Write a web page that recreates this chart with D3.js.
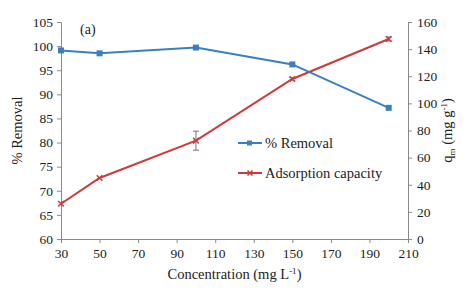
<!DOCTYPE html>
<html><head><meta charset="utf-8">
<script src="https://cdn.jsdelivr.net/npm/d3@7/dist/d3.min.js"></script>
</head><body style="margin:0">
<script>
const concentration = [30, 50, 100, 150, 200];
const removal = [99.1, 98.5, 99.7, 96.2, 87.2];
const capacity = [26, 45, 72.5, 118, 147.5];
const capacityErr = [0, 0, 7, 1, 1.5];
const xTicks = [30, 50, 70, 90, 110, 130, 150, 170, 190, 210];
const yLeftTicks = [60, 65, 70, 75, 80, 85, 90, 95, 100, 105];
const yRightTicks = [0, 20, 40, 60, 80, 100, 120, 140, 160];

const FONT = "Liberation Serif";
const W = 468, H = 292;
const m = {l: 61, r: 60, t: 22, b: 53};
const svg = d3.select("body").append("svg").attr("width", W).attr("height", H);
const x = d3.scaleLinear().domain([30, 210]).range([m.l, W - m.r]);
const yL = d3.scaleLinear().domain([60, 105]).range([H - m.b, m.t]);
const yR = d3.scaleLinear().domain([0, 160]).range([H - m.b, m.t]);
const blue = "#3a7fc2", red = "#d0393a", axisCol = "#8a8a8a";

function styleAxis(g) {
  g.attr("font-family", FONT).attr("font-size", 13.5);
  g.selectAll("path,line").attr("stroke", axisCol);
  g.selectAll("text").attr("fill", "#222");
}
svg.append("g").attr("transform", `translate(0,${H - m.b})`)
  .call(d3.axisBottom(x).tickValues(xTicks).tickSize(4).tickSizeOuter(0).tickPadding(5)).call(styleAxis);
svg.append("g").attr("transform", `translate(${m.l},0)`)
  .call(d3.axisLeft(yL).tickValues(yLeftTicks).tickSize(4).tickSizeOuter(0).tickPadding(4)).call(styleAxis);
svg.append("g").attr("transform", `translate(${W - m.r},0)`)
  .call(d3.axisRight(yR).tickValues(yRightTicks).tickSize(4).tickSizeOuter(0).tickPadding(5)).call(styleAxis);

// capacity line
const capData = concentration.map((c, i) => ({c, v: capacity[i], e: capacityErr[i]}));
svg.append("path").datum(capData).attr("fill", "none").attr("stroke", red).attr("stroke-width", 2)
  .attr("d", d3.line().x(d => x(d.c)).y(d => yR(d.v)));
const eb = svg.append("g").selectAll("g").data(capData.filter(d => d.e > 0)).join("g").attr("stroke", "#777").attr("stroke-width", 1);
eb.append("line").attr("x1", d => x(d.c)).attr("x2", d => x(d.c)).attr("y1", d => yR(d.v - d.e)).attr("y2", d => yR(d.v + d.e));
eb.append("line").attr("x1", d => x(d.c) - 3).attr("x2", d => x(d.c) + 3).attr("y1", d => yR(d.v - d.e)).attr("y2", d => yR(d.v - d.e));
eb.append("line").attr("x1", d => x(d.c) - 3).attr("x2", d => x(d.c) + 3).attr("y1", d => yR(d.v + d.e)).attr("y2", d => yR(d.v + d.e));
svg.append("g").selectAll("path").data(capData).join("path")
  .attr("d", d3.symbol(d3.symbolX, 22)).attr("transform", d => `translate(${x(d.c)},${yR(d.v)})`)
  .attr("stroke", red).attr("stroke-width", 1.5).attr("fill", "none");

// removal line
const remData = concentration.map((c, i) => ({c, v: removal[i]}));
svg.append("path").datum(remData).attr("fill", "none").attr("stroke", blue).attr("stroke-width", 2)
  .attr("d", d3.line().x(d => x(d.c)).y(d => yL(d.v)));
svg.append("g").selectAll("rect").data(remData).join("rect")
  .attr("x", d => x(d.c) - 3).attr("y", d => yL(d.v) - 3).attr("width", 6).attr("height", 6).attr("fill", blue);

// legend
const leg = [{n: "% Removal", c: blue, s: "sq"}, {n: "Adsorption capacity", c: red, s: "x"}];
leg.forEach((d, i) => {
  const yy = 143 + i * 30;
  svg.append("line").attr("x1", 238).attr("x2", 262).attr("y1", yy).attr("y2", yy).attr("stroke", d.c).attr("stroke-width", 2);
  if (d.s === "sq") svg.append("rect").attr("x", 247).attr("y", yy - 2.5).attr("width", 5).attr("height", 5).attr("fill", d.c);
  else svg.append("path").attr("d", d3.symbol(d3.symbolX, 18)()).attr("transform", `translate(250,${yy})`).attr("stroke", d.c).attr("stroke-width", 1.5);
  svg.append("text").attr("font-family", FONT).attr("fill", "#222").attr("x", 265).attr("y", yy + 5).attr("font-size", 14.5).text(d.n);
});

svg.append("text").attr("font-family", FONT).attr("fill", "#222").attr("x", 80).attr("y", 34).attr("font-size", 14).text("(a)");

// axis titles
svg.append("text").attr("font-family", FONT).attr("fill", "#222")
  .attr("transform", `translate(22,${(m.t + H - m.b) / 2}) rotate(-90)`).attr("text-anchor", "middle")
  .attr("font-size", 14.5).text("% Removal");
const rt = svg.append("text").attr("font-family", FONT).attr("fill", "#222")
  .attr("transform", `translate(452,${(m.t + H - m.b) / 2}) rotate(-90)`).attr("text-anchor", "middle").attr("font-size", 14.5);
rt.append("tspan").text("q");
rt.append("tspan").attr("font-size", 9).attr("dy", 3).text("m");
rt.append("tspan").attr("dy", -3).text(" (mg g");
rt.append("tspan").attr("font-size", 9).attr("dy", -5).text("-1");
rt.append("tspan").attr("dy", 5).text(")");
const xt = svg.append("text").attr("font-family", FONT).attr("fill", "#222")
  .attr("x", (m.l + W - m.r) / 2).attr("y", 279).attr("text-anchor", "middle").attr("font-size", 14.5);
xt.append("tspan").text("Concentration (mg L");
xt.append("tspan").attr("font-size", 9).attr("dy", -5).text("-1");
xt.append("tspan").attr("dy", 5).text(")");
</script>
</body></html>
